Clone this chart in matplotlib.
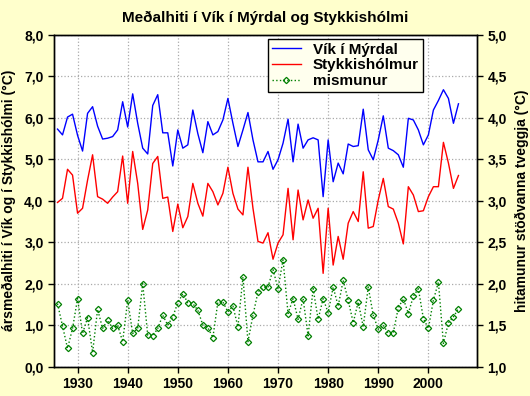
import numpy as np
import matplotlib
matplotlib.use("Agg")
import matplotlib.pyplot as plt
from matplotlib.ticker import FuncFormatter

plt.rcParams['font.family'] = ['Liberation Sans', 'DejaVu Sans']
plt.rcParams['font.weight'] = 'bold'

years = list(range(1926, 2007))

vik = [5.73, 5.59, 6.02, 6.09, 5.58, 5.20, 6.11, 6.27, 5.80, 5.49,
       5.51, 5.55, 5.71, 6.39, 5.78, 6.58, 5.87, 5.27, 5.13, 6.30,
       6.56, 5.64, 5.64, 4.84, 5.71, 5.27, 5.35, 6.19, 5.62, 5.16,
       5.91, 5.59, 5.67, 5.95, 6.47, 5.87, 5.31, 5.71, 6.13, 5.47,
       4.94, 4.94, 5.19, 4.76, 4.99, 5.39, 5.97, 4.94, 5.85, 5.27,
       5.47, 5.52, 5.47, 4.10, 5.47, 4.46, 4.91, 4.65, 5.37, 5.31,
       5.33, 6.21, 5.23, 4.99, 5.47, 6.05, 5.27, 5.21, 5.11, 4.81,
       5.99, 5.95, 5.71, 5.35, 5.59, 6.19, 6.42, 6.68, 6.47, 5.87,
       6.34]

stykk = [3.96, 4.06, 4.76, 4.62, 3.70, 3.82, 4.50, 5.11, 4.10, 4.04,
         3.94, 4.09, 4.22, 5.08, 3.94, 5.19, 4.42, 3.31, 3.78, 4.90,
         5.07, 4.06, 4.09, 3.26, 3.92, 3.35, 3.62, 4.42, 3.94, 3.63,
         4.42, 4.22, 3.90, 4.18, 4.81, 4.18, 3.80, 3.66, 4.81, 3.82,
         3.02, 2.98, 3.23, 2.59, 2.98, 3.18, 4.30, 3.06, 4.26, 3.54,
         4.02, 3.58, 3.82, 2.25, 3.82, 2.45, 3.14, 2.59, 3.46, 3.74,
         3.50, 4.70, 3.34, 3.38, 4.02, 4.54, 3.86, 3.80, 3.46, 2.96,
         4.34, 4.14, 3.74, 3.76, 4.10, 4.34, 4.34, 5.41, 4.91, 4.30,
         4.61]

mismunur = [1.76, 1.49, 1.22, 1.46, 1.82, 1.40, 1.59, 1.17, 1.69, 1.46,
            1.56, 1.46, 1.50, 1.30, 1.80, 1.40, 1.46, 2.00, 1.38, 1.37,
            1.46, 1.62, 1.50, 1.60, 1.77, 1.88, 1.77, 1.76, 1.68, 1.50,
            1.47, 1.35, 1.78, 1.78, 1.66, 1.73, 1.48, 2.08, 1.30, 1.62,
            1.90, 1.96, 1.96, 2.17, 1.94, 2.29, 1.64, 1.82, 1.57, 1.82,
            1.37, 1.94, 1.57, 1.82, 1.65, 1.96, 1.73, 2.04, 1.80, 1.53,
            1.78, 1.48, 1.96, 1.62, 1.45, 1.50, 1.40, 1.41, 1.71, 1.82,
            1.64, 1.85, 1.94, 1.58, 1.46, 1.80, 2.02, 1.28, 1.53, 1.60,
            1.70]

bg = '#FFFFCC'
fig = plt.figure(figsize=(5.3, 3.96), dpi=100, facecolor=bg)
ax = fig.add_axes([54/530, 29.4/396, 423/530, 331.6/396])
ax2 = ax.twinx()

comma = FuncFormatter(lambda v, p: ('%.1f' % v).replace('.', ','))

l1, = ax.plot(years, vik, color='#0000FF', lw=1.0, label='Vík í Mýrdal')
l2, = ax.plot(years, stykk, color='#FF0000', lw=1.0, label='Stykkishólmur')
l3, = ax2.plot(years, mismunur, color='#008000', lw=1.0, ls=':', marker='D',
               ms=3.2, mfc='none', mec='#008000', mew=0.9, label='mismunur')

ax.set_xlim(1925.3, 2009.7)
ax.set_ylim(0, 8)
ax2.set_ylim(1, 5)
ax.set_xticks(range(1930, 2001, 10))
ax.set_yticks(np.arange(0, 8.1, 1))
ax2.set_yticks(np.arange(1, 5.01, 0.5))
ax.yaxis.set_major_formatter(comma)
ax2.yaxis.set_major_formatter(comma)
ax.grid(True, color='#AAAAAA', ls=':', lw=0.9)
ax.set_facecolor('white')

for a in (ax, ax2):
    a.tick_params(labelsize=10, width=1, length=4, direction='out')
    for s in a.spines.values():
        s.set_linewidth(1.0)
for lab in ax.get_xticklabels() + ax.get_yticklabels() + ax2.get_yticklabels():
    lab.set_fontweight('bold')

ax.set_ylabel('ársmeðalhiti í Vík og í Stykkishólmi (°C)', fontsize=10,
              fontweight='bold', labelpad=6)
ax2.set_ylabel('hitamunur stöðvanna tveggja (°C)', fontsize=10,
               fontweight='bold', labelpad=6)
fig.text(0.5, 1 - 18/396, 'Meðalhiti í Vík í Mýrdal og Stykkishólmi',
         ha='center', va='center', fontsize=11, fontweight='bold')

leg = ax2.legend(handles=[l1, l2, l3], loc='upper left',
                 bbox_to_anchor=((268 - 54) / 423, 1 - 4/331.6),
                 borderaxespad=0, fontsize=11, frameon=True, fancybox=False,
                 facecolor='#FFFFEE', edgecolor='black', framealpha=1,
                 handlelength=1.9, borderpad=0.25, labelspacing=0.1,
                 handletextpad=0.8)
leg.get_frame().set_linewidth(1.0)
for t in leg.get_texts():
    t.set_fontweight('bold')

fig.savefig('out.png', dpi=100, facecolor=bg)
